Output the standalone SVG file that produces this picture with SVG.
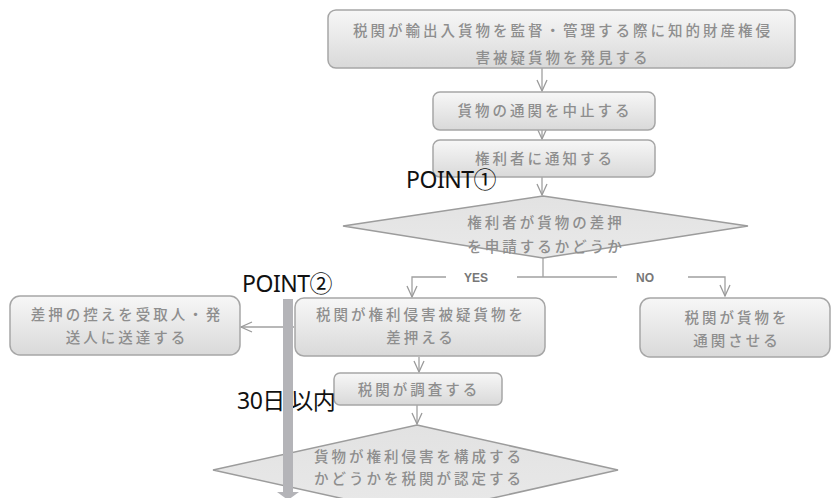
<svg xmlns="http://www.w3.org/2000/svg" width="832" height="498" viewBox="0 0 832 498">
<defs>
<linearGradient id="g" x1="0" y1="0" x2="0" y2="1"><stop offset="0" stop-color="#f7f7f7"/><stop offset="1" stop-color="#d9d9d9"/></linearGradient>
<linearGradient id="gd" x1="0" y1="0" x2="0" y2="1"><stop offset="0" stop-color="#e2e2e2"/><stop offset="1" stop-color="#e9e9e9"/></linearGradient>
<marker id="ah" markerWidth="14" markerHeight="12" refX="12" refY="6" orient="auto" markerUnits="userSpaceOnUse"><path d="M1,1 L12,6 L1,11" fill="none" stroke="#9a9a9a" stroke-width="1.3"/></marker>
</defs>
<style>
.box{fill:url(#g);stroke:#a6a6a6;stroke-width:1.5}
.dia{fill:url(#gd);stroke:#9c9c9c;stroke-width:1.5}
.t{font-family:"Noto Sans CJK JP","Noto Sans CJK SC",sans-serif;font-size:14.5px;font-weight:500;fill:#8e8e8e;text-anchor:middle;letter-spacing:3px}
.yn{font-family:"Liberation Sans",Arial,sans-serif;font-size:12px;font-weight:bold;fill:#777;text-anchor:middle}
.lbl{font-family:"Noto Sans","Noto Sans CJK JP",sans-serif;font-size:23px;fill:#111;letter-spacing:-0.5px}
.c{fill:none;stroke:#a0a0a0;stroke-width:1.3}
</style>
<g id="connectors">
<line class="c" x1="542" y1="68" x2="542" y2="91" marker-end="url(#ah)"/>
<line class="c" x1="542" y1="130" x2="542" y2="139" marker-end="url(#ah)"/>
<line class="c" x1="542" y1="177" x2="542" y2="195" marker-end="url(#ah)"/>
<polyline class="c" points="543,258 543,277"/>
<polyline class="c" points="446,277 412,277 412,297" marker-end="url(#ah)"/>
<line class="c" x1="517" y1="277" x2="617" y2="277"/>
<polyline class="c" points="688,277 725,277 725,296" marker-end="url(#ah)"/>
<line class="c" x1="294" y1="327" x2="241" y2="327" marker-end="url(#ah)"/>
<line class="c" x1="419" y1="357" x2="419" y2="372" marker-end="url(#ah)"/>
<line class="c" x1="417" y1="405" x2="417" y2="424" marker-end="url(#ah)"/>
<text class="yn" x="476" y="282">YES</text>
<text class="yn" x="645" y="282">NO</text>
</g>
<g id="n1"><rect class="box" x="328" y="10" width="467" height="58" rx="8"/>
<text class="t" x="563" y="36">税関が輸出入貨物を監督・管理する際に知的財産権侵</text>
<text class="t" x="563" y="63">害被疑貨物を発見する</text></g>
<g id="n2"><rect class="box" x="433" y="92" width="222" height="38" rx="7"/>
<text class="t" x="545" y="116">貨物の通関を中止する</text></g>
<g id="n3"><rect class="box" x="433" y="140" width="222" height="37" rx="7"/>
<text class="t" x="545" y="164">権利者に通知する</text></g>
<g id="d1"><polygon class="dia" points="543,196 748,226 543,258 343,226"/>
<text class="t" x="546" y="228">権利者が貨物の差押</text>
<text class="t" x="546" y="252">を申請するかどうか</text></g>
<g id="n4"><rect class="box" x="295" y="298" width="250" height="58" rx="9"/>
<text class="t" x="421" y="320">税関が権利侵害被疑貨物を</text>
<text class="t" x="421" y="343">差押える</text></g>
<g id="n5"><rect class="box" x="10" y="296" width="230" height="59" rx="10"/>
<text class="t" x="127" y="320">差押の控えを受取人・発</text>
<text class="t" x="127" y="343">送人に送達する</text></g>
<g id="n6"><rect class="box" x="640" y="298" width="190" height="59" rx="10"/>
<text class="t" x="737" y="323">税関が貨物を</text>
<text class="t" x="737" y="346">通関させる</text></g>
<g id="n7"><rect class="box" x="334" y="373" width="168" height="32" rx="6"/>
<text class="t" x="419" y="395">税関が調査する</text></g>
<g id="d2"><polygon class="dia" points="417,425 618,470 417,515 213,470"/>
<text class="t" x="419" y="462">貨物が権利侵害を構成する</text>
<text class="t" x="419" y="484">かどうかを税関が認定する</text></g>
<text class="lbl" x="406" y="188">POINT①</text>
<text class="lbl" x="242" y="292">POINT②</text>
<text class="lbl" x="237" y="409">30日 以内</text>
<g id="period">
<rect x="283" y="299" width="10" height="194" fill="#b4b4b8"/>
<polygon points="277,492 299,492 288,500" fill="#b4b4b8"/>
</g>
</svg>
